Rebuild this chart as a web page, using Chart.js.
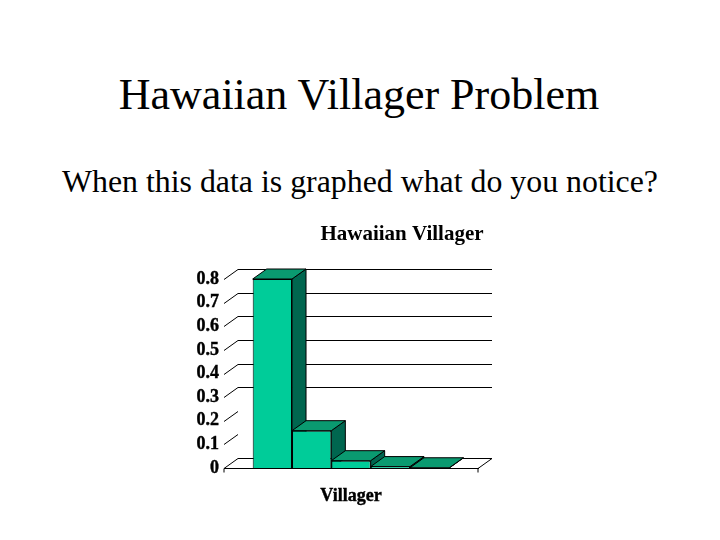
<!DOCTYPE html>
<html>
<head>
<meta charset="utf-8">
<title>Hawaiian Villager Problem</title>
<script src="https://cdn.jsdelivr.net/npm/chart.js@4"></script>
<style>
  html, body { margin: 0; padding: 0; background: #fff; }
  body { width: 720px; height: 540px; position: relative; overflow: hidden; font-family: "Liberation Serif", serif; color: #000; }
  h1, p { position: absolute; left: 0; width: 718px; margin: 0; text-align: center; font-weight: normal; white-space: nowrap; }
  h1 { top: 70px; font-size: 44px; line-height: 50px; }
  p { top: 163px; left: 1px; font-size: 31.85px; line-height: 38px; }
  #chartBox { position: absolute; left: 170px; top: 215px; width: 464px; height: 300px; }
</style>
</head>
<body>
<h1>Hawaiian Villager Problem</h1>
<p>When this data is graphed what do you notice?</p>
<div id="chartBox"><canvas id="chart1" width="464" height="300"></canvas></div>
<script>
const categories = ["Villager"];
const villagerValues = [0.8, 0.158, 0.031, 0.006, 0.001];
const backGridLevels = [0, 0.3, 0.4, 0.5, 0.6, 0.7, 0.8];
const chartTitle = "Hawaiian Villager";

const depthX = 14;
const depthY = -10;

function quad(ctx, pts, fill) {
  ctx.beginPath();
  ctx.moveTo(pts[0][0], pts[0][1]);
  for (let i = 1; i < pts.length; i++) ctx.lineTo(pts[i][0], pts[i][1]);
  ctx.closePath();
  if (fill) { ctx.fillStyle = fill; ctx.fill(); }
  ctx.stroke();
}

// fake 3d: back wall lines, floor and the bar tops and sides
const depthPlugin = {
  id: "depth",
  beforeDatasetsDraw(chart) {
    const ctx = chart.ctx;
    const area = chart.chartArea;
    const y = chart.scales.y;
    ctx.save();
    ctx.strokeStyle = "#000";
    ctx.lineWidth = 1;

    // diagonals on the left wall
    y.ticks.forEach(t => {
      const py = Math.round(y.getPixelForValue(t.value)) + 0.5;
      ctx.beginPath();
      ctx.moveTo(area.left, py);
      ctx.lineTo(area.left + depthX, py + depthY);
      ctx.stroke();
    });

    backGridLevels.forEach(v => {
      const py = Math.round(y.getPixelForValue(v)) + 0.5 + depthY;
      ctx.beginPath();
      ctx.moveTo(area.left + depthX, py);
      ctx.lineTo(area.right + depthX, py);
      ctx.stroke();
    });

    // right end of the floor and the two small ticks
    const floor = Math.round(y.getPixelForValue(0)) + 0.5;
    ctx.beginPath();
    ctx.moveTo(area.right, floor);
    ctx.lineTo(area.right + depthX, floor + depthY);
    ctx.moveTo(area.right, floor);
    ctx.lineTo(area.right, floor + 4);
    ctx.moveTo(area.left, floor);
    ctx.lineTo(area.left, floor + 4);
    ctx.stroke();

    chart.data.datasets.forEach((ds, i) => {
      const bar = chart.getDatasetMeta(i).data[0];
      const half = bar.width / 2;
      const l = bar.x - half, r = bar.x + half;
      const t = bar.y, b = bar.base;
      quad(ctx, [[r, t], [r + depthX, t + depthY], [r + depthX, b + depthY], [r, b]], "#00664F");
      quad(ctx, [[l, t], [l + depthX, t + depthY], [r + depthX, t + depthY], [r, t]], "#0A9A70");
    });
    ctx.restore();
  }
};

new Chart("chart1", {
  type: "bar",
  data: {
    labels: categories,
    datasets: villagerValues.map(v => ({
      data: [v],
      backgroundColor: "#00CC99",
      borderColor: "#000",
      borderWidth: 1,
      clip: false
    }))
  },
  plugins: [depthPlugin],
  options: {
    responsive: false,
    animation: false,
    devicePixelRatio: 1,
    datasets: { bar: { categoryPercentage: 0.774, barPercentage: 1 } },
    plugins: {
      legend: { display: false },
      tooltip: { enabled: false },
      title: {
        display: true,
        text: chartTitle,
        color: "#000",
        font: { family: "Liberation Serif", size: 21, weight: "bold" },
        padding: { top: 7, bottom: 31.8 }
      }
    },
    scales: {
      x: {
        grid: { display: false, drawTicks: false },
        border: { display: true, color: "#000", width: 1 },
        ticks: {
          color: "#000",
          padding: 18,
          textStrokeColor: "#000",
          textStrokeWidth: 0.4,
          font: { family: "Liberation Serif", size: 18, weight: "bold" }
        },
        afterFit(scale) { scale.height = 47; }
      },
      y: {
        min: 0,
        max: 0.8,
        grid: { display: false, drawTicks: false },
        border: { display: false },
        ticks: {
          stepSize: 0.1,
          autoSkip: false,
          color: "#000",
          padding: 5,
          textStrokeColor: "#000",
          textStrokeWidth: 0.4,
          font: { family: "Liberation Serif", size: 18, weight: "bold" }
        },
        afterFit(scale) { scale.width = 54; }
      },
      // empty right axis, holds the room right of the plot so the title centres on the canvas
      spacer: {
        type: "linear",
        position: "right",
        display: true,
        grid: { display: false },
        border: { display: false },
        ticks: { display: false },
        afterFit(scale) { scale.width = 156; }
      }
    }
  }
});
</script>
</body>
</html>
